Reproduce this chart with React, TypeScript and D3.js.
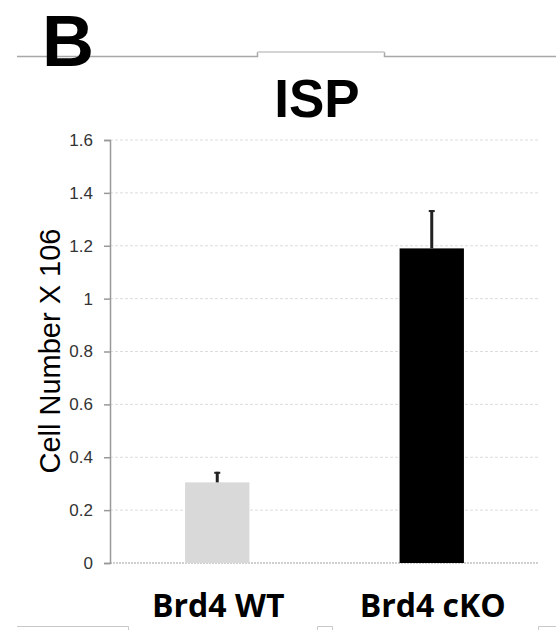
import React, { useEffect, useRef } from 'react';
import * as d3 from 'd3';

const categories = ['Brd4 WT', 'Brd4 cKO'];
const values = [0.305, 1.19];
const errors = [0.04, 0.145];
const barColors = ['#d9d9d9', '#000000'];
const yTicks = [0, 0.2, 0.4, 0.6, 0.8, 1, 1.2, 1.4, 1.6];

const W = 556;
const H = 630;

const App: React.FC = () => {
  const svgRef = useRef<SVGSVGElement>(null);

  useEffect(() => {
    if (!svgRef.current) return;
    const svg = d3.select(svgRef.current);
    svg.selectAll('*').remove();

    const left = 110;
    const right = 539;

    const x = d3.scaleBand<string>()
      .domain(categories)
      .range([left, right])
      .paddingInner(0.7)
      .paddingOuter(0.35);

    const y = d3.scaleLinear().domain([0, 1.6]).range([563, 140]);

    // panel frame fragments (top rule with notch, bottom pieces)
    const frame = svg.append('g').attr('fill', 'none');
    frame.append('path')
      .attr('d', 'M17,56.5H257.5V52M384.5,52V56.5H556')
      .attr('stroke', '#a8a8a8')
      .attr('stroke-width', 1.5);
    frame.append('line')
      .attr('x1', 257.5).attr('x2', 384.5).attr('y1', 52).attr('y2', 52)
      .attr('stroke', '#d4d4d4').attr('stroke-width', 2);
    frame.append('path')
      .attr('d', 'M17,626.5H128.5V630M317.5,630V626.5H332.5V630M538.5,630V626.5H556')
      .attr('stroke', '#c8c8c8')
      .attr('stroke-width', 1);

    // panel letter
    svg.append('text')
      .attr('x', 42)
      .attr('y', 66)
      .attr('font-family', 'Liberation Sans, Arial, sans-serif')
      .attr('font-weight', 'bold')
      .attr('font-size', 72)
      .attr('fill', '#000')
      .text('B');

    // title
    svg.append('text')
      .attr('x', 317)
      .attr('y', 117)
      .attr('text-anchor', 'middle')
      .attr('font-family', 'Liberation Sans, Arial, sans-serif')
      .attr('font-weight', 'bold')
      .attr('font-size', 53)
      .attr('fill', '#000')
      .text('ISP');

    // gridlines
    svg.append('g')
      .selectAll('line')
      .data(yTicks.filter(t => t > 0))
      .join('line')
      .attr('x1', left)
      .attr('x2', right)
      .attr('y1', d => y(d))
      .attr('y2', d => y(d))
      .attr('stroke', '#dcdcdc')
      .attr('stroke-width', 1)
      .attr('stroke-dasharray', '3,2');

    // baseline
    svg.append('line')
      .attr('x1', left)
      .attr('x2', right)
      .attr('y1', y(0))
      .attr('y2', y(0))
      .attr('stroke', '#d0d0d0')
      .attr('stroke-width', 2)
      .attr('stroke-dasharray', '2,1');

    // y axis
    const yAxis = svg.append('g')
      .attr('transform', `translate(${left},0)`)
      .call(d3.axisLeft(y).tickValues(yTicks).tickSize(6).tickPadding(11)
        .tickFormat(d => d3.format('~g')(d as number)));
    yAxis.select('.domain').attr('stroke', '#999').attr('stroke-width', 1.5);
    yAxis.selectAll('.tick line').attr('stroke', '#999').attr('stroke-width', 1.5);
    yAxis.selectAll('.tick text')
      .attr('fill', '#333')
      .attr('font-family', 'Liberation Sans, Arial, sans-serif')
      .attr('font-size', 17);

    // y label
    svg.append('text')
      .attr('transform', `translate(60,351) rotate(-90)`)
      .attr('text-anchor', 'middle')
      .attr('font-family', 'Liberation Sans, Arial, sans-serif')
      .attr('font-size', 29)
      .attr('fill', '#000')
      .text('Cell Number X 106');

    // bars
    svg.append('g')
      .selectAll('rect')
      .data(categories)
      .join('rect')
      .attr('x', d => x(d)!)
      .attr('y', (d, i) => y(values[i]))
      .attr('width', x.bandwidth())
      .attr('height', (d, i) => y(0) - y(values[i]))
      .attr('fill', (d, i) => barColors[i]);

    // error bars (upper only)
    const eb = svg.append('g').attr('stroke', '#222');
    categories.forEach((c, i) => {
      const cx = x(c)! + x.bandwidth() / 2;
      eb.append('line')
        .attr('x1', cx).attr('x2', cx)
        .attr('y1', y(values[i])).attr('y2', y(values[i] + errors[i]))
        .attr('stroke-width', 3);
      eb.append('line')
        .attr('x1', cx - 3).attr('x2', cx + 3)
        .attr('y1', y(values[i] + errors[i]) + 1).attr('y2', y(values[i] + errors[i]) + 1)
        .attr('stroke-width', 2);
    });

    // category labels
    svg.append('g')
      .selectAll('text')
      .data(categories)
      .join('text')
      .attr('x', d => x(d)! + x.bandwidth() / 2 + 1)
      .attr('y', 617)
      .attr('text-anchor', 'middle')
      .attr('font-family', 'Open Sans, sans-serif')
      .attr('font-weight', 'bold')
      .attr('font-size', 32)
      .attr('fill', '#000')
      .text(d => d);
  }, []);

  return (
    <svg
      ref={svgRef}
      width={W}
      height={H}
      style={{ position: 'absolute', left: 0, top: 0, background: '#fff' }}
    />
  );
};

export default App;
